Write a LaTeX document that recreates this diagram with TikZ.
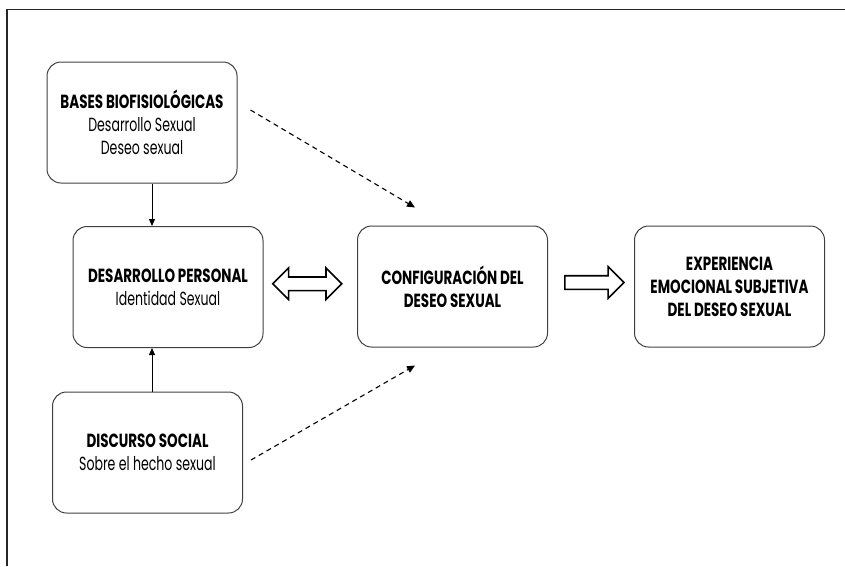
\documentclass[tikz,border=0pt]{standalone}
\usepackage{fontspec}
\setmainfont[UprightFeatures={FakeStretch=0.66},BoldFeatures={FakeStretch=0.71}]{Poppins}
\usetikzlibrary{arrows.meta,calc,shapes.arrows}

\tikzset{
  box/.style={draw=black!75, line width=1pt, rounded corners=14pt,
    minimum width=190pt, minimum height=121pt, align=center,
    font=\fontsize{19}{23}\selectfont},
  fat/.style={draw=black, line width=1.6pt, fill=white, inner xsep=0pt,
    inner ysep=6pt, minimum height=#1, single arrow head extend=9pt,
    double arrow head extend=9pt},
  dashedarrow/.style={-{Triangle[length=8pt,width=7pt]}, line width=1.1pt,
    dash pattern=on 5pt off 4pt},
}

\begin{document}
\begin{tikzpicture}[x=1pt, y=-1pt]
  \useasboundingbox (0,0) rectangle (845,566);
  % frame
  \draw[line width=1.5pt, black!85] (7,566) -- (7,9.5) -- (845,9.5);

  \node[box] (bases) at (142,122.5)
    {\textbf{BASES BIOFISIOLÓGICAS}\\Desarrollo Sexual\\Deseo sexual};
  \node[box] (personal) at (168,287)
    {\textbf{DESARROLLO PERSONAL}\\Identidad Sexual};
  \node[box] (social) at (147.5,452.5)
    {\textbf{DISCURSO SOCIAL}\\Sobre el hecho sexual};
  \node[box] (config) at (452.5,286.5)
    {\textbf{CONFIGURACIÓN DEL}\\\textbf{DESEO SEXUAL}};
  \node[box] (exper) at (729.5,286.5)
    {\textbf{EXPERIENCIA}\\\textbf{EMOCIONAL SUBJETIVA}\\\textbf{DEL DESEO SEXUAL}};

  \draw[-{Triangle[length=7pt,width=6pt]}, line width=0.9pt]
    ([xshift=10pt]bases.south) -- ([xshift=10pt]bases.south |- personal.north);
  \draw[-{Triangle[length=7pt,width=6pt]}, line width=0.9pt]
    ([xshift=4.5pt]social.north) -- ([xshift=4.5pt]social.north |- personal.south);

  % dashed influences
  \draw[dashedarrow] ([shift={(13,-12.5)}]bases.east) -- ([shift={(-37.5,-18)}]config.north);
  \draw[dashedarrow] ([shift={(8,7.5)}]social.east) -- ([shift={(-37.5,18)}]config.south);

  % block arrows
  \node[fat=69pt, double arrow] (both) at ($(personal.east)!0.5!(config.west)+(-3,-3)$) {};
  \node[fat=59pt, single arrow] (toexp) at ($(config.east)!0.5!(exper.west)+(0,-4)$) {};
\end{tikzpicture}
\end{document}
